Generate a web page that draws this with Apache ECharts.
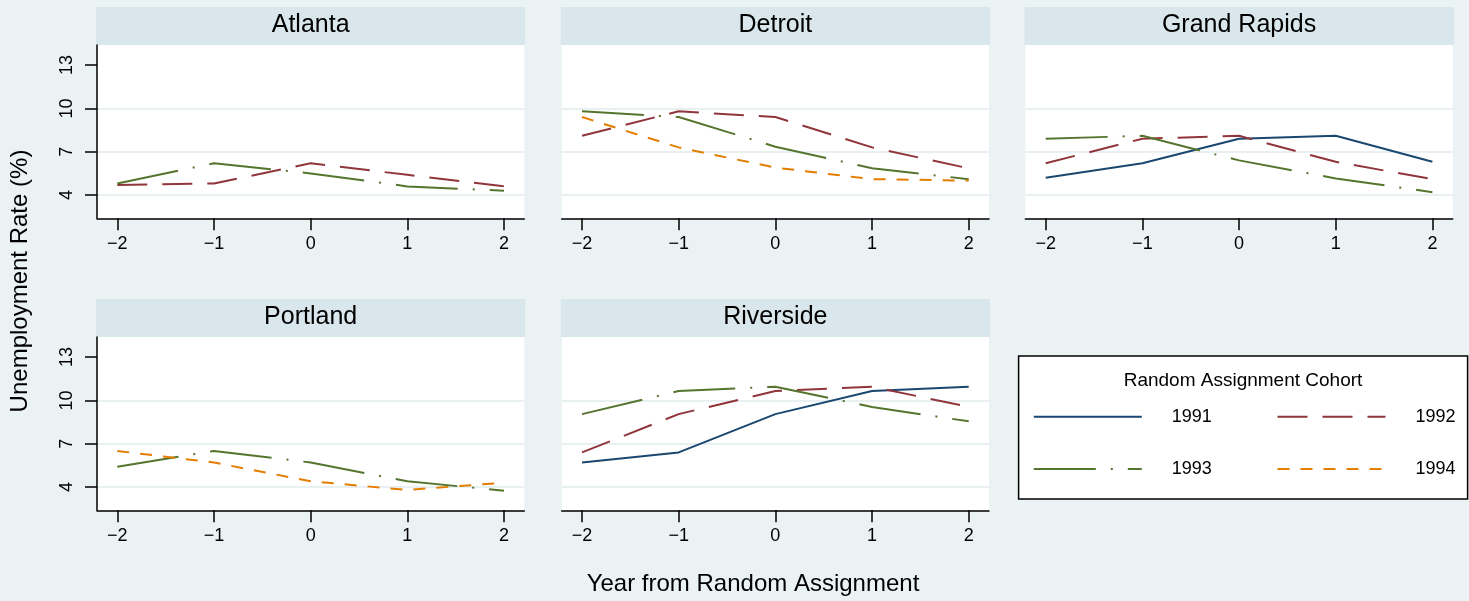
<!DOCTYPE html>
<html><head><meta charset="utf-8">
<script src="https://cdn.jsdelivr.net/npm/echarts@6/dist/echarts.min.js"></script>
<style>html,body{margin:0;padding:0;background:#eaf2f3}#c{width:1469px;height:601px}</style>
</head><body><div id="c"></div>
<script>
// ---- data ----
const years = [-2, -1, 0, 1, 2];
const yTicks = [4, 7, 10, 13];
const cohorts = ['1991', '1992', '1993', '1994'];
const cities = ['Atlanta', 'Detroit', 'Grand Rapids', 'Portland', 'Riverside'];
const atlanta1992 = [4.7, 4.8, 6.2, 5.4, 4.6];
const atlanta1993 = [4.8, 6.2, 5.5, 4.6, 4.3];
const detroit1992 = [8.1, 9.8, 9.4, 7.3, 5.85];
const detroit1993 = [9.8, 9.4, 7.35, 5.85, 5.1];
const detroit1994 = [9.4, 7.3, 5.9, 5.1, 5.0];
const grandRapids1991 = [5.2, 6.2, 7.9, 8.1, 6.3];
const grandRapids1992 = [6.2, 7.9, 8.1, 6.3, 5.1];
const grandRapids1993 = [7.9, 8.1, 6.4, 5.15, 4.2];
const portland1993 = [5.4, 6.5, 5.7, 4.4, 3.75];
const portland1994 = [6.5, 5.7, 4.4, 3.8, 4.3];
const riverside1991 = [5.7, 6.4, 9.05, 10.65, 10.95];
const riverside1992 = [6.4, 9.05, 10.65, 10.95, 9.55];
const riverside1993 = [9.05, 10.65, 10.95, 9.55, 8.55];

// ---- layout / style ----
const FONT = '"Liberation Sans", Arial, Helvetica, sans-serif';
const colLeft = [97, 561.7, 1025.4];
const rowTop = [45, 337];
const gridW = 427.3, gridH = 173.3, headH = 38;
const styleMap = {
  '1991': { color: '#1a476f', type: 'solid' },
  '1992': { color: '#90353b', type: [30, 15] },
  '1993': { color: '#55752f', type: [62, 15, 2, 15] },
  '1994': { color: '#e37e00', type: [12, 11] }
};
const panels = [
  { city: cities[0], col: 0, row: 0, lines: [['1992', atlanta1992], ['1993', atlanta1993]] },
  { city: cities[1], col: 1, row: 0, lines: [['1992', detroit1992], ['1993', detroit1993], ['1994', detroit1994]] },
  { city: cities[2], col: 2, row: 0, lines: [['1991', grandRapids1991], ['1992', grandRapids1992], ['1993', grandRapids1993]] },
  { city: cities[3], col: 0, row: 1, lines: [['1993', portland1993], ['1994', portland1994]] },
  { city: cities[4], col: 1, row: 1, lines: [['1991', riverside1991], ['1992', riverside1992], ['1993', riverside1993]] }
];
const minus = v => String(v).replace('-', '\u2212');

const grids = [], xAxes = [], yAxes = [], series = [], graphics = [];
panels.forEach((p, i) => {
  const left = colLeft[p.col], top = rowTop[p.row];
  grids.push({ left: left, top: top, width: gridW, height: gridH, show: true,
    backgroundColor: '#ffffff', borderWidth: 0, containLabel: false, outerBoundsMode: 'none' });
  xAxes.push({ gridIndex: i, type: 'value', min: -2.21, max: 2.21,
    axisLine: { show: true, lineStyle: { color: '#000', width: 1.5 } },
    axisTick: { show: true, length: 12, customValues: years, lineStyle: { color: '#000', width: 1.5 } },
    axisLabel: { show: true, customValues: years, formatter: minus, fontSize: 18, color: '#000', fontFamily: FONT, margin: 17 },
    splitLine: { show: false } });
  const first = p.col === 0;
  yAxes.push({ gridIndex: i, type: 'value', min: 2.39, max: 14.39,
    axisLine: { show: first, onZero: false, lineStyle: { color: '#000', width: 1.5 } },
    axisTick: { show: first, length: 12, customValues: yTicks, lineStyle: { color: '#000', width: 1.5 } },
    axisLabel: { show: first, customValues: yTicks, rotate: 90, fontSize: 18, color: '#000', fontFamily: FONT, margin: 21 },
    splitLine: { show: true, showMinLine: true, showMaxLine: false, lineStyle: { color: '#e8f0f2', width: 2 } } });
  p.lines.forEach(([name, vals]) => {
    const st = styleMap[name];
    series.push({ type: 'line', name: name, xAxisIndex: i, yAxisIndex: i,
      data: years.map((x, j) => [x, vals[j]]), symbol: 'none', silent: true,
      lineStyle: { color: st.color, width: 2, type: st.type }, itemStyle: { color: st.color } });
  });
  graphics.push({ type: 'rect', shape: { x: left - 1, y: top - headH, width: gridW + 2, height: headH },
    style: { fill: '#d9e6eb' }, silent: true });
  graphics.push({ type: 'text', x: left + gridW / 2, y: top - headH / 2 - 1,
    style: { text: p.city, textAlign: 'center', textVerticalAlign: 'middle', fontSize: 25, fontFamily: FONT, fill: '#000' } });
});

// legend box + titles
graphics.push({ type: 'rect', shape: { x: 1018.6, y: 356, width: 449, height: 143 },
  style: { fill: '#ffffff', stroke: '#000', lineWidth: 1.5 }, silent: true, z: -1 });
graphics.push({ type: 'text', x: 1243, y: 381,
  style: { text: 'Random Assignment Cohort', textAlign: 'center', textVerticalAlign: 'middle', fontSize: 19, fontFamily: FONT, fill: '#000' } });
graphics.push({ type: 'text', x: 20, y: 281, rotation: Math.PI / 2,
  style: { text: 'Unemployment Rate (%)', textAlign: 'center', textVerticalAlign: 'middle', fontSize: 24, fontFamily: FONT, fill: '#000' } });
graphics.push({ type: 'text', x: 753, y: 584,
  style: { text: 'Year from Random Assignment', textAlign: 'center', textVerticalAlign: 'middle', fontSize: 24, fontFamily: FONT, fill: '#000' } });

const legendPos = [[1032.8, 416.7], [1276.5, 416.7], [1032.8, 469], [1276.5, 469]];
const legends = cohorts.map((c, k) => ({
  data: [c], left: legendPos[k][0], top: legendPos[k][1] - 10, padding: 0, itemGap: 0,
  itemWidth: 108, itemHeight: 20, selectedMode: false,
  itemStyle: { color: 'rgba(0,0,0,0)', borderColor: 'rgba(0,0,0,0)', borderWidth: 0 },
  textStyle: { fontSize: 18, color: '#000', fontFamily: FONT, lineHeight: 20, padding: [0, 0, 0, 25] }
}));

const chart = echarts.init(document.getElementById('c'), null, { renderer: 'canvas' });
chart.setOption({
  backgroundColor: '#eaf2f3',
  animation: false,
  grid: grids, xAxis: xAxes, yAxis: yAxes, series: series,
  legend: legends,
  graphic: { elements: graphics }
});
</script></body></html>
